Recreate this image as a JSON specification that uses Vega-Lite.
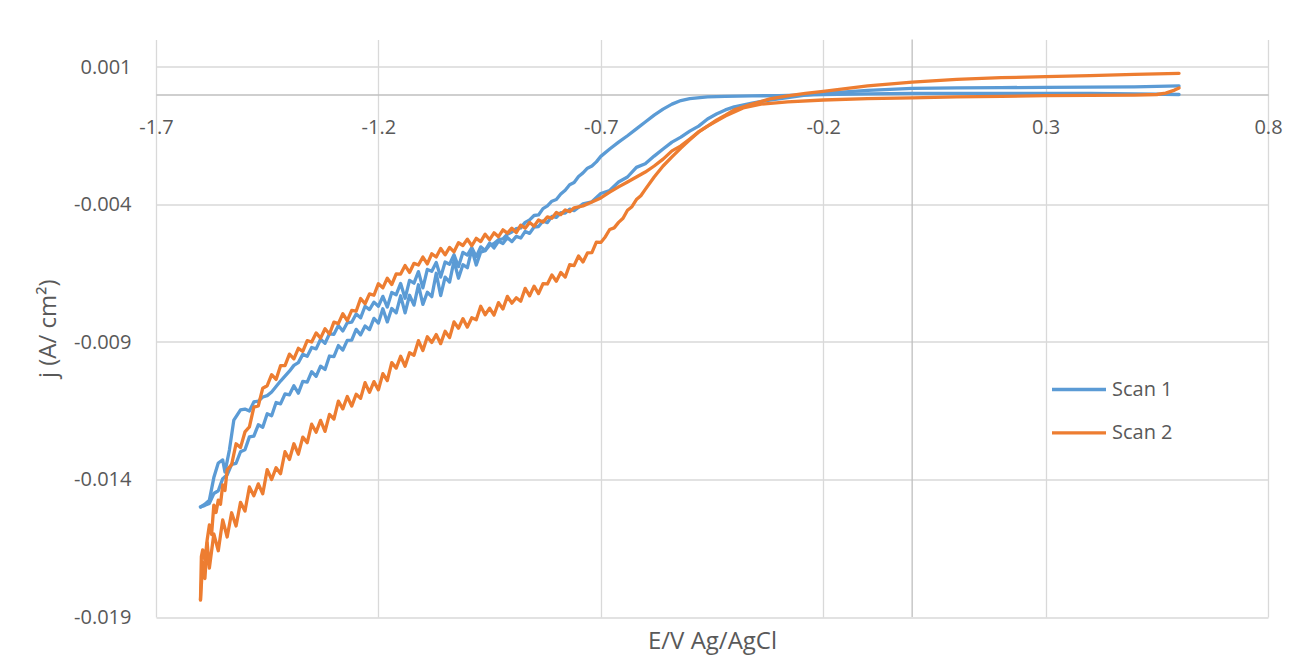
{
"$schema": "https://vega.github.io/schema/vega-lite/v6.json",
"width": 1112, "height": 577.5,
"autosize": {"type": "none"},
"padding": {"left": 156, "top": 39.5, "right": 38, "bottom": 52},
"background": "white",
"config": {
 "locale": {"number": {"decimal": ".", "thousands": ",", "grouping": [3], "currency": ["$", ""], "minus": "-"}},
 "view": {"stroke": null},
 "font": "Open Sans"
},
"layer": [
{"data": {"values": [{}]}, "mark": {"type": "rule", "color": "#bfbfbf", "strokeWidth": 1.3}, "encoding": {"x": {"datum": 0, "type": "quantitative"}}},
{"data": {"values": [
{"s":"Scan 1","b":"f","E":0.6,"j":0},
{"s":"Scan 1","b":"f","E":0.5,"j":0.00002},
{"s":"Scan 1","b":"f","E":0.4,"j":0.00004},
{"s":"Scan 1","b":"f","E":0.3,"j":0.00004},
{"s":"Scan 1","b":"f","E":0.2,"j":0.00004},
{"s":"Scan 1","b":"f","E":0.1,"j":0.00004},
{"s":"Scan 1","b":"f","E":0,"j":0.00004},
{"s":"Scan 1","b":"f","E":-0.1,"j":0.00002},
{"s":"Scan 1","b":"f","E":-0.2,"j":0},
{"s":"Scan 1","b":"f","E":-0.3,"j":-0.00004},
{"s":"Scan 1","b":"f","E":-0.36,"j":-0.00005},
{"s":"Scan 1","b":"f","E":-0.42,"j":-0.00007},
{"s":"Scan 1","b":"f","E":-0.46,"j":-0.00009},
{"s":"Scan 1","b":"f","E":-0.5,"j":-0.00015},
{"s":"Scan 1","b":"f","E":-0.52,"j":-0.00022},
{"s":"Scan 1","b":"f","E":-0.54,"j":-0.00035},
{"s":"Scan 1","b":"f","E":-0.56,"j":-0.00053},
{"s":"Scan 1","b":"f","E":-0.58,"j":-0.00075},
{"s":"Scan 1","b":"f","E":-0.6,"j":-0.001},
{"s":"Scan 1","b":"f","E":-0.62,"j":-0.00125},
{"s":"Scan 1","b":"f","E":-0.64,"j":-0.0015},
{"s":"Scan 1","b":"f","E":-0.66,"j":-0.00173},
{"s":"Scan 1","b":"f","E":-0.68,"j":-0.00198},
{"s":"Scan 1","b":"f","E":-0.7,"j":-0.00225},
{"s":"Scan 1","b":"f","E":-0.71,"j":-0.00245},
{"s":"Scan 1","b":"f","E":-0.72,"j":-0.0026},
{"s":"Scan 1","b":"f","E":-0.73,"j":-0.00268},
{"s":"Scan 1","b":"f","E":-0.74,"j":-0.00285},
{"s":"Scan 1","b":"f","E":-0.75,"j":-0.00298},
{"s":"Scan 1","b":"f","E":-0.76,"j":-0.0032},
{"s":"Scan 1","b":"f","E":-0.77,"j":-0.00328},
{"s":"Scan 1","b":"f","E":-0.78,"j":-0.00348},
{"s":"Scan 1","b":"f","E":-0.79,"j":-0.00362},
{"s":"Scan 1","b":"f","E":-0.8,"j":-0.00382},
{"s":"Scan 1","b":"f","E":-0.81,"j":-0.00388},
{"s":"Scan 1","b":"f","E":-0.82,"j":-0.00405},
{"s":"Scan 1","b":"f","E":-0.83,"j":-0.00415},
{"s":"Scan 1","b":"f","E":-0.84,"j":-0.00438},
{"s":"Scan 1","b":"f","E":-0.85,"j":-0.0044},
{"s":"Scan 1","b":"f","E":-0.86,"j":-0.00456},
{"s":"Scan 1","b":"f","E":-0.87,"j":-0.00465},
{"s":"Scan 1","b":"f","E":-0.88,"j":-0.00485},
{"s":"Scan 1","b":"f","E":-0.89,"j":-0.00488},
{"s":"Scan 1","b":"f","E":-0.9,"j":-0.005},
{"s":"Scan 1","b":"f","E":-0.91,"j":-0.00508},
{"s":"Scan 1","b":"f","E":-0.92,"j":-0.00525},
{"s":"Scan 1","b":"f","E":-0.93,"j":-0.00528},
{"s":"Scan 1","b":"f","E":-0.94,"j":-0.00542},
{"s":"Scan 1","b":"f","E":-0.95,"j":-0.00548},
{"s":"Scan 1","b":"f","E":-0.96,"j":-0.00568},
{"s":"Scan 1","b":"f","E":-0.97,"j":-0.00573},
{"s":"Scan 1","b":"f","E":-0.98,"j":-0.0062},
{"s":"Scan 1","b":"f","E":-0.99,"j":-0.00563},
{"s":"Scan 1","b":"f","E":-1,"j":-0.0063},
{"s":"Scan 1","b":"f","E":-1.01,"j":-0.00619},
{"s":"Scan 1","b":"f","E":-1.02,"j":-0.00668},
{"s":"Scan 1","b":"f","E":-1.03,"j":-0.00605},
{"s":"Scan 1","b":"f","E":-1.04,"j":-0.00682},
{"s":"Scan 1","b":"f","E":-1.05,"j":-0.00664},
{"s":"Scan 1","b":"f","E":-1.06,"j":-0.00731},
{"s":"Scan 1","b":"f","E":-1.07,"j":-0.0065},
{"s":"Scan 1","b":"f","E":-1.08,"j":-0.00735},
{"s":"Scan 1","b":"f","E":-1.09,"j":-0.00719},
{"s":"Scan 1","b":"f","E":-1.1,"j":-0.00763},
{"s":"Scan 1","b":"f","E":-1.11,"j":-0.00692},
{"s":"Scan 1","b":"f","E":-1.12,"j":-0.00766},
{"s":"Scan 1","b":"f","E":-1.13,"j":-0.0073},
{"s":"Scan 1","b":"f","E":-1.14,"j":-0.00794},
{"s":"Scan 1","b":"f","E":-1.15,"j":-0.00732},
{"s":"Scan 1","b":"f","E":-1.16,"j":-0.00794},
{"s":"Scan 1","b":"f","E":-1.17,"j":-0.00778},
{"s":"Scan 1","b":"f","E":-1.18,"j":-0.00827},
{"s":"Scan 1","b":"f","E":-1.19,"j":-0.00779},
{"s":"Scan 1","b":"f","E":-1.2,"j":-0.00831},
{"s":"Scan 1","b":"f","E":-1.21,"j":-0.00814},
{"s":"Scan 1","b":"f","E":-1.22,"j":-0.00855},
{"s":"Scan 1","b":"f","E":-1.23,"j":-0.00842},
{"s":"Scan 1","b":"f","E":-1.24,"j":-0.00874},
{"s":"Scan 1","b":"f","E":-1.25,"j":-0.00854},
{"s":"Scan 1","b":"f","E":-1.26,"j":-0.00893},
{"s":"Scan 1","b":"f","E":-1.27,"j":-0.00894},
{"s":"Scan 1","b":"f","E":-1.28,"j":-0.00929},
{"s":"Scan 1","b":"f","E":-1.29,"j":-0.00913},
{"s":"Scan 1","b":"f","E":-1.3,"j":-0.00953},
{"s":"Scan 1","b":"f","E":-1.31,"j":-0.00951},
{"s":"Scan 1","b":"f","E":-1.32,"j":-0.01},
{"s":"Scan 1","b":"f","E":-1.33,"j":-0.00988},
{"s":"Scan 1","b":"f","E":-1.34,"j":-0.01025},
{"s":"Scan 1","b":"f","E":-1.35,"j":-0.01008},
{"s":"Scan 1","b":"f","E":-1.36,"j":-0.01046},
{"s":"Scan 1","b":"f","E":-1.37,"j":-0.01043},
{"s":"Scan 1","b":"f","E":-1.38,"j":-0.01086},
{"s":"Scan 1","b":"f","E":-1.39,"j":-0.01059},
{"s":"Scan 1","b":"f","E":-1.4,"j":-0.01092},
{"s":"Scan 1","b":"f","E":-1.41,"j":-0.01089},
{"s":"Scan 1","b":"f","E":-1.42,"j":-0.01125},
{"s":"Scan 1","b":"f","E":-1.43,"j":-0.0112},
{"s":"Scan 1","b":"f","E":-1.44,"j":-0.01168},
{"s":"Scan 1","b":"f","E":-1.45,"j":-0.01161},
{"s":"Scan 1","b":"f","E":-1.46,"j":-0.0121},
{"s":"Scan 1","b":"f","E":-1.47,"j":-0.01201},
{"s":"Scan 1","b":"f","E":-1.48,"j":-0.01242},
{"s":"Scan 1","b":"f","E":-1.49,"j":-0.01245},
{"s":"Scan 1","b":"f","E":-1.5,"j":-0.01292},
{"s":"Scan 1","b":"f","E":-1.51,"j":-0.01299},
{"s":"Scan 1","b":"f","E":-1.52,"j":-0.01341},
{"s":"Scan 1","b":"f","E":-1.53,"j":-0.01345},
{"s":"Scan 1","b":"f","E":-1.54,"j":-0.01383},
{"s":"Scan 1","b":"f","E":-1.55,"j":-0.01397},
{"s":"Scan 1","b":"f","E":-1.56,"j":-0.01441},
{"s":"Scan 1","b":"f","E":-1.57,"j":-0.01451},
{"s":"Scan 1","b":"f","E":-1.58,"j":-0.01487},
{"s":"Scan 1","b":"f","E":-1.59,"j":-0.01494},
{"s":"Scan 1","b":"f","E":-1.6,"j":-0.015},
{"s":"Scan 1","b":"r","E":-1.6,"j":-0.015},
{"s":"Scan 1","b":"r","E":-1.59,"j":-0.0149},
{"s":"Scan 1","b":"r","E":-1.58,"j":-0.01475},
{"s":"Scan 1","b":"r","E":-1.57,"j":-0.01393},
{"s":"Scan 1","b":"r","E":-1.56,"j":-0.0134},
{"s":"Scan 1","b":"r","E":-1.55,"j":-0.01329},
{"s":"Scan 1","b":"r","E":-1.545,"j":-0.01373},
{"s":"Scan 1","b":"r","E":-1.535,"j":-0.01293},
{"s":"Scan 1","b":"r","E":-1.525,"j":-0.01184},
{"s":"Scan 1","b":"r","E":-1.51,"j":-0.01147},
{"s":"Scan 1","b":"r","E":-1.5,"j":-0.01144},
{"s":"Scan 1","b":"r","E":-1.49,"j":-0.01151},
{"s":"Scan 1","b":"r","E":-1.48,"j":-0.01118},
{"s":"Scan 1","b":"r","E":-1.47,"j":-0.01115},
{"s":"Scan 1","b":"r","E":-1.46,"j":-0.011},
{"s":"Scan 1","b":"r","E":-1.45,"j":-0.01095},
{"s":"Scan 1","b":"r","E":-1.44,"j":-0.01082},
{"s":"Scan 1","b":"r","E":-1.43,"j":-0.01062},
{"s":"Scan 1","b":"r","E":-1.42,"j":-0.01042},
{"s":"Scan 1","b":"r","E":-1.41,"j":-0.01024},
{"s":"Scan 1","b":"r","E":-1.4,"j":-0.01006},
{"s":"Scan 1","b":"r","E":-1.39,"j":-0.00985},
{"s":"Scan 1","b":"r","E":-1.38,"j":-0.00975},
{"s":"Scan 1","b":"r","E":-1.37,"j":-0.00945},
{"s":"Scan 1","b":"r","E":-1.36,"j":-0.00952},
{"s":"Scan 1","b":"r","E":-1.35,"j":-0.0092},
{"s":"Scan 1","b":"r","E":-1.34,"j":-0.00925},
{"s":"Scan 1","b":"r","E":-1.33,"j":-0.0089},
{"s":"Scan 1","b":"r","E":-1.32,"j":-0.00905},
{"s":"Scan 1","b":"r","E":-1.31,"j":-0.0087},
{"s":"Scan 1","b":"r","E":-1.3,"j":-0.00872},
{"s":"Scan 1","b":"r","E":-1.29,"j":-0.0084},
{"s":"Scan 1","b":"r","E":-1.28,"j":-0.0086},
{"s":"Scan 1","b":"r","E":-1.27,"j":-0.0083},
{"s":"Scan 1","b":"r","E":-1.26,"j":-0.00828},
{"s":"Scan 1","b":"r","E":-1.25,"j":-0.00798},
{"s":"Scan 1","b":"r","E":-1.24,"j":-0.00812},
{"s":"Scan 1","b":"r","E":-1.23,"j":-0.0077},
{"s":"Scan 1","b":"r","E":-1.22,"j":-0.00782},
{"s":"Scan 1","b":"r","E":-1.21,"j":-0.00755},
{"s":"Scan 1","b":"r","E":-1.2,"j":-0.0077},
{"s":"Scan 1","b":"r","E":-1.19,"j":-0.00734},
{"s":"Scan 1","b":"r","E":-1.18,"j":-0.00773},
{"s":"Scan 1","b":"r","E":-1.17,"j":-0.0072},
{"s":"Scan 1","b":"r","E":-1.16,"j":-0.00728},
{"s":"Scan 1","b":"r","E":-1.15,"j":-0.00687},
{"s":"Scan 1","b":"r","E":-1.14,"j":-0.00741},
{"s":"Scan 1","b":"r","E":-1.13,"j":-0.00676},
{"s":"Scan 1","b":"r","E":-1.12,"j":-0.00686},
{"s":"Scan 1","b":"r","E":-1.11,"j":-0.00644},
{"s":"Scan 1","b":"r","E":-1.1,"j":-0.00703},
{"s":"Scan 1","b":"r","E":-1.09,"j":-0.00636},
{"s":"Scan 1","b":"r","E":-1.08,"j":-0.00643},
{"s":"Scan 1","b":"r","E":-1.07,"j":-0.00611},
{"s":"Scan 1","b":"r","E":-1.06,"j":-0.00664},
{"s":"Scan 1","b":"r","E":-1.05,"j":-0.00609},
{"s":"Scan 1","b":"r","E":-1.04,"j":-0.00617},
{"s":"Scan 1","b":"r","E":-1.03,"j":-0.00583},
{"s":"Scan 1","b":"r","E":-1.02,"j":-0.00626},
{"s":"Scan 1","b":"r","E":-1.01,"j":-0.00574},
{"s":"Scan 1","b":"r","E":-1,"j":-0.00584},
{"s":"Scan 1","b":"r","E":-0.99,"j":-0.00557},
{"s":"Scan 1","b":"r","E":-0.98,"j":-0.0059},
{"s":"Scan 1","b":"r","E":-0.97,"j":-0.00554},
{"s":"Scan 1","b":"r","E":-0.96,"j":-0.00567},
{"s":"Scan 1","b":"r","E":-0.95,"j":-0.0054},
{"s":"Scan 1","b":"r","E":-0.94,"j":-0.00558},
{"s":"Scan 1","b":"r","E":-0.93,"j":-0.00534},
{"s":"Scan 1","b":"r","E":-0.92,"j":-0.00542},
{"s":"Scan 1","b":"r","E":-0.91,"j":-0.0052},
{"s":"Scan 1","b":"r","E":-0.9,"j":-0.00535},
{"s":"Scan 1","b":"r","E":-0.89,"j":-0.00516},
{"s":"Scan 1","b":"r","E":-0.88,"j":-0.00522},
{"s":"Scan 1","b":"r","E":-0.87,"j":-0.00498},
{"s":"Scan 1","b":"r","E":-0.86,"j":-0.00505},
{"s":"Scan 1","b":"r","E":-0.85,"j":-0.00482},
{"s":"Scan 1","b":"r","E":-0.84,"j":-0.0048},
{"s":"Scan 1","b":"r","E":-0.83,"j":-0.0046},
{"s":"Scan 1","b":"r","E":-0.82,"j":-0.00466},
{"s":"Scan 1","b":"r","E":-0.81,"j":-0.00443},
{"s":"Scan 1","b":"r","E":-0.8,"j":-0.00447},
{"s":"Scan 1","b":"r","E":-0.79,"j":-0.0043},
{"s":"Scan 1","b":"r","E":-0.78,"j":-0.00431},
{"s":"Scan 1","b":"r","E":-0.77,"j":-0.00417},
{"s":"Scan 1","b":"r","E":-0.76,"j":-0.00422},
{"s":"Scan 1","b":"r","E":-0.74,"j":-0.00398},
{"s":"Scan 1","b":"r","E":-0.72,"j":-0.0039},
{"s":"Scan 1","b":"r","E":-0.7,"j":-0.0036},
{"s":"Scan 1","b":"r","E":-0.68,"j":-0.00349},
{"s":"Scan 1","b":"r","E":-0.66,"j":-0.00318},
{"s":"Scan 1","b":"r","E":-0.64,"j":-0.003},
{"s":"Scan 1","b":"r","E":-0.62,"j":-0.00265},
{"s":"Scan 1","b":"r","E":-0.6,"j":-0.00252},
{"s":"Scan 1","b":"r","E":-0.58,"j":-0.00224},
{"s":"Scan 1","b":"r","E":-0.56,"j":-0.00198},
{"s":"Scan 1","b":"r","E":-0.54,"j":-0.00173},
{"s":"Scan 1","b":"r","E":-0.52,"j":-0.00155},
{"s":"Scan 1","b":"r","E":-0.5,"j":-0.00133},
{"s":"Scan 1","b":"r","E":-0.48,"j":-0.00115},
{"s":"Scan 1","b":"r","E":-0.46,"j":-0.00089},
{"s":"Scan 1","b":"r","E":-0.44,"j":-0.00071},
{"s":"Scan 1","b":"r","E":-0.42,"j":-0.00056},
{"s":"Scan 1","b":"r","E":-0.4,"j":-0.00045},
{"s":"Scan 1","b":"r","E":-0.36,"j":-0.00031},
{"s":"Scan 1","b":"r","E":-0.32,"j":-0.0002},
{"s":"Scan 1","b":"r","E":-0.28,"j":-0.00011},
{"s":"Scan 1","b":"r","E":-0.24,"j":-0.00002},
{"s":"Scan 1","b":"r","E":-0.2,"j":0.00004},
{"s":"Scan 1","b":"r","E":-0.1,"j":0.00015},
{"s":"Scan 1","b":"r","E":0,"j":0.00022},
{"s":"Scan 1","b":"r","E":0.1,"j":0.00024},
{"s":"Scan 1","b":"r","E":0.2,"j":0.00025},
{"s":"Scan 1","b":"r","E":0.3,"j":0.00026},
{"s":"Scan 1","b":"r","E":0.4,"j":0.00027},
{"s":"Scan 1","b":"r","E":0.5,"j":0.00028},
{"s":"Scan 1","b":"r","E":0.6,"j":0.00031},
{"s":"Scan 2","b":"f","E":0.6,"j":0.00024},
{"s":"Scan 2","b":"f","E":0.59,"j":0.00016},
{"s":"Scan 2","b":"f","E":0.57,"j":0.00005},
{"s":"Scan 2","b":"f","E":0.55,"j":0},
{"s":"Scan 2","b":"f","E":0.5,"j":-0.00002},
{"s":"Scan 2","b":"f","E":0.4,"j":-0.00003},
{"s":"Scan 2","b":"f","E":0.3,"j":-0.00004},
{"s":"Scan 2","b":"f","E":0.2,"j":-0.00007},
{"s":"Scan 2","b":"f","E":0.1,"j":-0.00009},
{"s":"Scan 2","b":"f","E":0,"j":-0.00012},
{"s":"Scan 2","b":"f","E":-0.1,"j":-0.00015},
{"s":"Scan 2","b":"f","E":-0.2,"j":-0.0002},
{"s":"Scan 2","b":"f","E":-0.28,"j":-0.00027},
{"s":"Scan 2","b":"f","E":-0.34,"j":-0.00035},
{"s":"Scan 2","b":"f","E":-0.38,"j":-0.00049},
{"s":"Scan 2","b":"f","E":-0.42,"j":-0.00078},
{"s":"Scan 2","b":"f","E":-0.46,"j":-0.00115},
{"s":"Scan 2","b":"f","E":-0.48,"j":-0.00136},
{"s":"Scan 2","b":"f","E":-0.5,"j":-0.00165},
{"s":"Scan 2","b":"f","E":-0.52,"j":-0.00195},
{"s":"Scan 2","b":"f","E":-0.54,"j":-0.00227},
{"s":"Scan 2","b":"f","E":-0.56,"j":-0.0026},
{"s":"Scan 2","b":"f","E":-0.58,"j":-0.003},
{"s":"Scan 2","b":"f","E":-0.6,"j":-0.00345},
{"s":"Scan 2","b":"f","E":-0.61,"j":-0.00368},
{"s":"Scan 2","b":"f","E":-0.62,"j":-0.00382},
{"s":"Scan 2","b":"f","E":-0.63,"j":-0.00408},
{"s":"Scan 2","b":"f","E":-0.64,"j":-0.00421},
{"s":"Scan 2","b":"f","E":-0.65,"j":-0.0045},
{"s":"Scan 2","b":"f","E":-0.66,"j":-0.00465},
{"s":"Scan 2","b":"f","E":-0.67,"j":-0.00485},
{"s":"Scan 2","b":"f","E":-0.68,"j":-0.00491},
{"s":"Scan 2","b":"f","E":-0.69,"j":-0.00518},
{"s":"Scan 2","b":"f","E":-0.7,"j":-0.00538},
{"s":"Scan 2","b":"f","E":-0.71,"j":-0.00537},
{"s":"Scan 2","b":"f","E":-0.72,"j":-0.00575},
{"s":"Scan 2","b":"f","E":-0.73,"j":-0.00576},
{"s":"Scan 2","b":"f","E":-0.74,"j":-0.00609},
{"s":"Scan 2","b":"f","E":-0.75,"j":-0.00587},
{"s":"Scan 2","b":"f","E":-0.76,"j":-0.00622},
{"s":"Scan 2","b":"f","E":-0.77,"j":-0.00619},
{"s":"Scan 2","b":"f","E":-0.78,"j":-0.00664},
{"s":"Scan 2","b":"f","E":-0.79,"j":-0.00647},
{"s":"Scan 2","b":"f","E":-0.8,"j":-0.00679},
{"s":"Scan 2","b":"f","E":-0.81,"j":-0.00656},
{"s":"Scan 2","b":"f","E":-0.82,"j":-0.00689},
{"s":"Scan 2","b":"f","E":-0.83,"j":-0.00688},
{"s":"Scan 2","b":"f","E":-0.84,"j":-0.00724},
{"s":"Scan 2","b":"f","E":-0.85,"j":-0.00697},
{"s":"Scan 2","b":"f","E":-0.86,"j":-0.00732},
{"s":"Scan 2","b":"f","E":-0.87,"j":-0.00705},
{"s":"Scan 2","b":"f","E":-0.88,"j":-0.00752},
{"s":"Scan 2","b":"f","E":-0.89,"j":-0.00739},
{"s":"Scan 2","b":"f","E":-0.9,"j":-0.00759},
{"s":"Scan 2","b":"f","E":-0.91,"j":-0.00734},
{"s":"Scan 2","b":"f","E":-0.92,"j":-0.0078},
{"s":"Scan 2","b":"f","E":-0.93,"j":-0.00757},
{"s":"Scan 2","b":"f","E":-0.94,"j":-0.00802},
{"s":"Scan 2","b":"f","E":-0.95,"j":-0.00777},
{"s":"Scan 2","b":"f","E":-0.96,"j":-0.00801},
{"s":"Scan 2","b":"f","E":-0.97,"j":-0.0077},
{"s":"Scan 2","b":"f","E":-0.98,"j":-0.00819},
{"s":"Scan 2","b":"f","E":-0.99,"j":-0.00812},
{"s":"Scan 2","b":"f","E":-1,"j":-0.00846},
{"s":"Scan 2","b":"f","E":-1.01,"j":-0.00815},
{"s":"Scan 2","b":"f","E":-1.02,"j":-0.0085},
{"s":"Scan 2","b":"f","E":-1.03,"j":-0.00827},
{"s":"Scan 2","b":"f","E":-1.04,"j":-0.00884},
{"s":"Scan 2","b":"f","E":-1.05,"j":-0.00861},
{"s":"Scan 2","b":"f","E":-1.06,"j":-0.00906},
{"s":"Scan 2","b":"f","E":-1.07,"j":-0.00873},
{"s":"Scan 2","b":"f","E":-1.08,"j":-0.00902},
{"s":"Scan 2","b":"f","E":-1.09,"j":-0.00881},
{"s":"Scan 2","b":"f","E":-1.1,"j":-0.00931},
{"s":"Scan 2","b":"f","E":-1.11,"j":-0.00895},
{"s":"Scan 2","b":"f","E":-1.12,"j":-0.00948},
{"s":"Scan 2","b":"f","E":-1.13,"j":-0.00939},
{"s":"Scan 2","b":"f","E":-1.14,"j":-0.00988},
{"s":"Scan 2","b":"f","E":-1.15,"j":-0.00952},
{"s":"Scan 2","b":"f","E":-1.16,"j":-0.00995},
{"s":"Scan 2","b":"f","E":-1.17,"j":-0.00975},
{"s":"Scan 2","b":"f","E":-1.18,"j":-0.0104},
{"s":"Scan 2","b":"f","E":-1.19,"j":-0.01015},
{"s":"Scan 2","b":"f","E":-1.2,"j":-0.01074},
{"s":"Scan 2","b":"f","E":-1.21,"j":-0.01044},
{"s":"Scan 2","b":"f","E":-1.22,"j":-0.01083},
{"s":"Scan 2","b":"f","E":-1.23,"j":-0.01048},
{"s":"Scan 2","b":"f","E":-1.24,"j":-0.01105},
{"s":"Scan 2","b":"f","E":-1.25,"j":-0.0109},
{"s":"Scan 2","b":"f","E":-1.26,"j":-0.01133},
{"s":"Scan 2","b":"f","E":-1.27,"j":-0.01098},
{"s":"Scan 2","b":"f","E":-1.28,"j":-0.01143},
{"s":"Scan 2","b":"f","E":-1.29,"j":-0.01115},
{"s":"Scan 2","b":"f","E":-1.3,"j":-0.0118},
{"s":"Scan 2","b":"f","E":-1.31,"j":-0.01163},
{"s":"Scan 2","b":"f","E":-1.32,"j":-0.01225},
{"s":"Scan 2","b":"f","E":-1.33,"j":-0.01185},
{"s":"Scan 2","b":"f","E":-1.34,"j":-0.01228},
{"s":"Scan 2","b":"f","E":-1.35,"j":-0.01199},
{"s":"Scan 2","b":"f","E":-1.36,"j":-0.01266},
{"s":"Scan 2","b":"f","E":-1.37,"j":-0.01246},
{"s":"Scan 2","b":"f","E":-1.38,"j":-0.01308},
{"s":"Scan 2","b":"f","E":-1.39,"j":-0.0127},
{"s":"Scan 2","b":"f","E":-1.4,"j":-0.01327},
{"s":"Scan 2","b":"f","E":-1.41,"j":-0.01299},
{"s":"Scan 2","b":"f","E":-1.42,"j":-0.01379},
{"s":"Scan 2","b":"f","E":-1.43,"j":-0.01357},
{"s":"Scan 2","b":"f","E":-1.44,"j":-0.014},
{"s":"Scan 2","b":"f","E":-1.45,"j":-0.01364},
{"s":"Scan 2","b":"f","E":-1.46,"j":-0.01452},
{"s":"Scan 2","b":"f","E":-1.47,"j":-0.01416},
{"s":"Scan 2","b":"f","E":-1.48,"j":-0.01459},
{"s":"Scan 2","b":"f","E":-1.49,"j":-0.01427},
{"s":"Scan 2","b":"f","E":-1.5,"j":-0.01515},
{"s":"Scan 2","b":"f","E":-1.51,"j":-0.01483},
{"s":"Scan 2","b":"f","E":-1.52,"j":-0.01569},
{"s":"Scan 2","b":"f","E":-1.53,"j":-0.01521},
{"s":"Scan 2","b":"f","E":-1.54,"j":-0.01609},
{"s":"Scan 2","b":"f","E":-1.55,"j":-0.01547},
{"s":"Scan 2","b":"f","E":-1.56,"j":-0.01659},
{"s":"Scan 2","b":"f","E":-1.57,"j":-0.01598},
{"s":"Scan 2","b":"f","E":-1.58,"j":-0.01722},
{"s":"Scan 2","b":"f","E":-1.585,"j":-0.0163},
{"s":"Scan 2","b":"f","E":-1.59,"j":-0.0176},
{"s":"Scan 2","b":"f","E":-1.595,"j":-0.017},
{"s":"Scan 2","b":"f","E":-1.6,"j":-0.01838},
{"s":"Scan 2","b":"r","E":-1.6,"j":-0.01838},
{"s":"Scan 2","b":"r","E":-1.598,"j":-0.0168},
{"s":"Scan 2","b":"r","E":-1.595,"j":-0.01656},
{"s":"Scan 2","b":"r","E":-1.59,"j":-0.01693},
{"s":"Scan 2","b":"r","E":-1.585,"j":-0.0162},
{"s":"Scan 2","b":"r","E":-1.58,"j":-0.01565},
{"s":"Scan 2","b":"r","E":-1.575,"j":-0.016},
{"s":"Scan 2","b":"r","E":-1.57,"j":-0.01493},
{"s":"Scan 2","b":"r","E":-1.565,"j":-0.0152},
{"s":"Scan 2","b":"r","E":-1.56,"j":-0.01475},
{"s":"Scan 2","b":"r","E":-1.555,"j":-0.0149},
{"s":"Scan 2","b":"r","E":-1.55,"j":-0.0142},
{"s":"Scan 2","b":"r","E":-1.545,"j":-0.0144},
{"s":"Scan 2","b":"r","E":-1.54,"j":-0.01365},
{"s":"Scan 2","b":"r","E":-1.53,"j":-0.01346},
{"s":"Scan 2","b":"r","E":-1.52,"j":-0.0127},
{"s":"Scan 2","b":"r","E":-1.51,"j":-0.01284},
{"s":"Scan 2","b":"r","E":-1.5,"j":-0.01227},
{"s":"Scan 2","b":"r","E":-1.49,"j":-0.01209},
{"s":"Scan 2","b":"r","E":-1.48,"j":-0.01137},
{"s":"Scan 2","b":"r","E":-1.47,"j":-0.01132},
{"s":"Scan 2","b":"r","E":-1.46,"j":-0.01068},
{"s":"Scan 2","b":"r","E":-1.45,"j":-0.01059},
{"s":"Scan 2","b":"r","E":-1.44,"j":-0.01019},
{"s":"Scan 2","b":"r","E":-1.43,"j":-0.01036},
{"s":"Scan 2","b":"r","E":-1.42,"j":-0.00986},
{"s":"Scan 2","b":"r","E":-1.41,"j":-0.00986},
{"s":"Scan 2","b":"r","E":-1.4,"j":-0.00944},
{"s":"Scan 2","b":"r","E":-1.39,"j":-0.00961},
{"s":"Scan 2","b":"r","E":-1.38,"j":-0.00923},
{"s":"Scan 2","b":"r","E":-1.37,"j":-0.00934},
{"s":"Scan 2","b":"r","E":-1.36,"j":-0.00895},
{"s":"Scan 2","b":"r","E":-1.35,"j":-0.009},
{"s":"Scan 2","b":"r","E":-1.34,"j":-0.00867},
{"s":"Scan 2","b":"r","E":-1.33,"j":-0.00886},
{"s":"Scan 2","b":"r","E":-1.32,"j":-0.00852},
{"s":"Scan 2","b":"r","E":-1.31,"j":-0.00871},
{"s":"Scan 2","b":"r","E":-1.3,"j":-0.00828},
{"s":"Scan 2","b":"r","E":-1.29,"j":-0.00833},
{"s":"Scan 2","b":"r","E":-1.28,"j":-0.00797},
{"s":"Scan 2","b":"r","E":-1.27,"j":-0.00822},
{"s":"Scan 2","b":"r","E":-1.26,"j":-0.00785},
{"s":"Scan 2","b":"r","E":-1.25,"j":-0.00788},
{"s":"Scan 2","b":"r","E":-1.24,"j":-0.00742},
{"s":"Scan 2","b":"r","E":-1.23,"j":-0.00761},
{"s":"Scan 2","b":"r","E":-1.22,"j":-0.00725},
{"s":"Scan 2","b":"r","E":-1.21,"j":-0.0073},
{"s":"Scan 2","b":"r","E":-1.2,"j":-0.00688},
{"s":"Scan 2","b":"r","E":-1.19,"j":-0.00703},
{"s":"Scan 2","b":"r","E":-1.18,"j":-0.00668},
{"s":"Scan 2","b":"r","E":-1.17,"j":-0.00691},
{"s":"Scan 2","b":"r","E":-1.16,"j":-0.00652},
{"s":"Scan 2","b":"r","E":-1.15,"j":-0.00653},
{"s":"Scan 2","b":"r","E":-1.14,"j":-0.00622},
{"s":"Scan 2","b":"r","E":-1.13,"j":-0.00647},
{"s":"Scan 2","b":"r","E":-1.12,"j":-0.00614},
{"s":"Scan 2","b":"r","E":-1.11,"j":-0.0062},
{"s":"Scan 2","b":"r","E":-1.1,"j":-0.00591},
{"s":"Scan 2","b":"r","E":-1.09,"j":-0.00616},
{"s":"Scan 2","b":"r","E":-1.08,"j":-0.00579},
{"s":"Scan 2","b":"r","E":-1.07,"j":-0.00591},
{"s":"Scan 2","b":"r","E":-1.06,"j":-0.0056},
{"s":"Scan 2","b":"r","E":-1.05,"j":-0.00583},
{"s":"Scan 2","b":"r","E":-1.04,"j":-0.00556},
{"s":"Scan 2","b":"r","E":-1.03,"j":-0.00572},
{"s":"Scan 2","b":"r","E":-1.02,"j":-0.00539},
{"s":"Scan 2","b":"r","E":-1.01,"j":-0.00549},
{"s":"Scan 2","b":"r","E":-1,"j":-0.00526},
{"s":"Scan 2","b":"r","E":-0.99,"j":-0.0055},
{"s":"Scan 2","b":"r","E":-0.98,"j":-0.00523},
{"s":"Scan 2","b":"r","E":-0.97,"j":-0.00535},
{"s":"Scan 2","b":"r","E":-0.96,"j":-0.00508},
{"s":"Scan 2","b":"r","E":-0.95,"j":-0.00528},
{"s":"Scan 2","b":"r","E":-0.94,"j":-0.00503},
{"s":"Scan 2","b":"r","E":-0.93,"j":-0.00517},
{"s":"Scan 2","b":"r","E":-0.92,"j":-0.00492},
{"s":"Scan 2","b":"r","E":-0.91,"j":-0.00504},
{"s":"Scan 2","b":"r","E":-0.9,"j":-0.00486},
{"s":"Scan 2","b":"r","E":-0.89,"j":-0.00502},
{"s":"Scan 2","b":"r","E":-0.88,"j":-0.00475},
{"s":"Scan 2","b":"r","E":-0.87,"j":-0.00486},
{"s":"Scan 2","b":"r","E":-0.86,"j":-0.00465},
{"s":"Scan 2","b":"r","E":-0.85,"j":-0.00479},
{"s":"Scan 2","b":"r","E":-0.84,"j":-0.00456},
{"s":"Scan 2","b":"r","E":-0.83,"j":-0.00464},
{"s":"Scan 2","b":"r","E":-0.82,"j":-0.00445},
{"s":"Scan 2","b":"r","E":-0.81,"j":-0.0045},
{"s":"Scan 2","b":"r","E":-0.8,"j":-0.00429},
{"s":"Scan 2","b":"r","E":-0.79,"j":-0.00437},
{"s":"Scan 2","b":"r","E":-0.78,"j":-0.0042},
{"s":"Scan 2","b":"r","E":-0.77,"j":-0.00426},
{"s":"Scan 2","b":"r","E":-0.76,"j":-0.00412},
{"s":"Scan 2","b":"r","E":-0.74,"j":-0.00405},
{"s":"Scan 2","b":"r","E":-0.72,"j":-0.00391},
{"s":"Scan 2","b":"r","E":-0.7,"j":-0.00376},
{"s":"Scan 2","b":"r","E":-0.68,"j":-0.00355},
{"s":"Scan 2","b":"r","E":-0.66,"j":-0.00336},
{"s":"Scan 2","b":"r","E":-0.64,"j":-0.00318},
{"s":"Scan 2","b":"r","E":-0.62,"j":-0.003},
{"s":"Scan 2","b":"r","E":-0.6,"j":-0.00282},
{"s":"Scan 2","b":"r","E":-0.58,"j":-0.0026},
{"s":"Scan 2","b":"r","E":-0.56,"j":-0.00235},
{"s":"Scan 2","b":"r","E":-0.54,"j":-0.00205},
{"s":"Scan 2","b":"r","E":-0.52,"j":-0.00187},
{"s":"Scan 2","b":"r","E":-0.5,"j":-0.00162},
{"s":"Scan 2","b":"r","E":-0.48,"j":-0.00136},
{"s":"Scan 2","b":"r","E":-0.46,"j":-0.00115},
{"s":"Scan 2","b":"r","E":-0.44,"j":-0.00093},
{"s":"Scan 2","b":"r","E":-0.42,"j":-0.00075},
{"s":"Scan 2","b":"r","E":-0.4,"j":-0.00056},
{"s":"Scan 2","b":"r","E":-0.36,"j":-0.00035},
{"s":"Scan 2","b":"r","E":-0.32,"j":-0.00016},
{"s":"Scan 2","b":"r","E":-0.28,"j":-0.00005},
{"s":"Scan 2","b":"r","E":-0.24,"j":0.00004},
{"s":"Scan 2","b":"r","E":-0.2,"j":0.00011},
{"s":"Scan 2","b":"r","E":-0.1,"j":0.00031},
{"s":"Scan 2","b":"r","E":0,"j":0.00045},
{"s":"Scan 2","b":"r","E":0.1,"j":0.00055},
{"s":"Scan 2","b":"r","E":0.2,"j":0.00061},
{"s":"Scan 2","b":"r","E":0.3,"j":0.00065},
{"s":"Scan 2","b":"r","E":0.4,"j":0.00069},
{"s":"Scan 2","b":"r","E":0.5,"j":0.00073},
{"s":"Scan 2","b":"r","E":0.6,"j":0.00077}
]},
"mark": {"type": "line", "strokeWidth": 3.3, "strokeCap": "round", "strokeJoin": "round"},
"encoding": {
 "x": {"field": "E", "type": "quantitative",
  "scale": {"domain": [-1.7, 0.8], "nice": false, "zero": false},
  "axis": {"title": "E/V Ag/AgCl", "values": [-1.7, -1.2, -0.7, -0.2, 0.3, 0.8], "format": ".1f",
   "offset": -522.5, "grid": true, "gridColor": "#d9d9d9", "gridWidth": 1.3,
   "domainColor": "#bfbfbf", "domainWidth": 1.3, "ticks": false, "tickSize": 0,
   "labelFlush": false, "labelOverlap": false, "labelFontSize": 20, "labelColor": "#595959",
   "labelBaseline": "alphabetic", "labelPadding": 38.5,
   "titleFontSize": 24, "titleFontWeight": "normal", "titleColor": "#595959",
   "titleX": 556, "titleY": 553.5, "titleBaseline": "alphabetic", "titleAlign": "center"}},
 "y": {"field": "j", "type": "quantitative",
  "scale": {"domain": [-0.019, 0.002], "nice": false, "zero": false},
  "axis": {"title": "j (A/ cm²)", "values": [-0.019, -0.014, -0.009, -0.004, 0.001], "format": ".3f",
   "grid": true, "gridColor": "#d9d9d9", "gridWidth": 1.3, "domain": false, "ticks": false, "tickSize": 0,
   "labelFlush": false, "labelOverlap": false, "labelFontSize": 20, "labelColor": "#595959", "labelPadding": 25,
   "titleFontSize": 24, "titleFontWeight": "normal", "titleColor": "#595959",
   "titleAngle": -90, "titleX": -101, "titleY": 288.75, "titleBaseline": "alphabetic", "titleAlign": "center"}},
 "color": {"field": "s", "type": "nominal",
  "scale": {"domain": ["Scan 1", "Scan 2"], "range": ["#5B9BD5", "#ED7D31"]},
  "legend": {"title": null, "orient": "none", "legendX": 894, "legendY": 321,
   "symbolType": "stroke", "symbolSize": 2916, "symbolStrokeWidth": 3.3, "rowPadding": 4.4,
   "labelFontSize": 20, "labelColor": "#595959", "labelOffset": 4}},
 "detail": {"field": "b"}
}}
]
}
